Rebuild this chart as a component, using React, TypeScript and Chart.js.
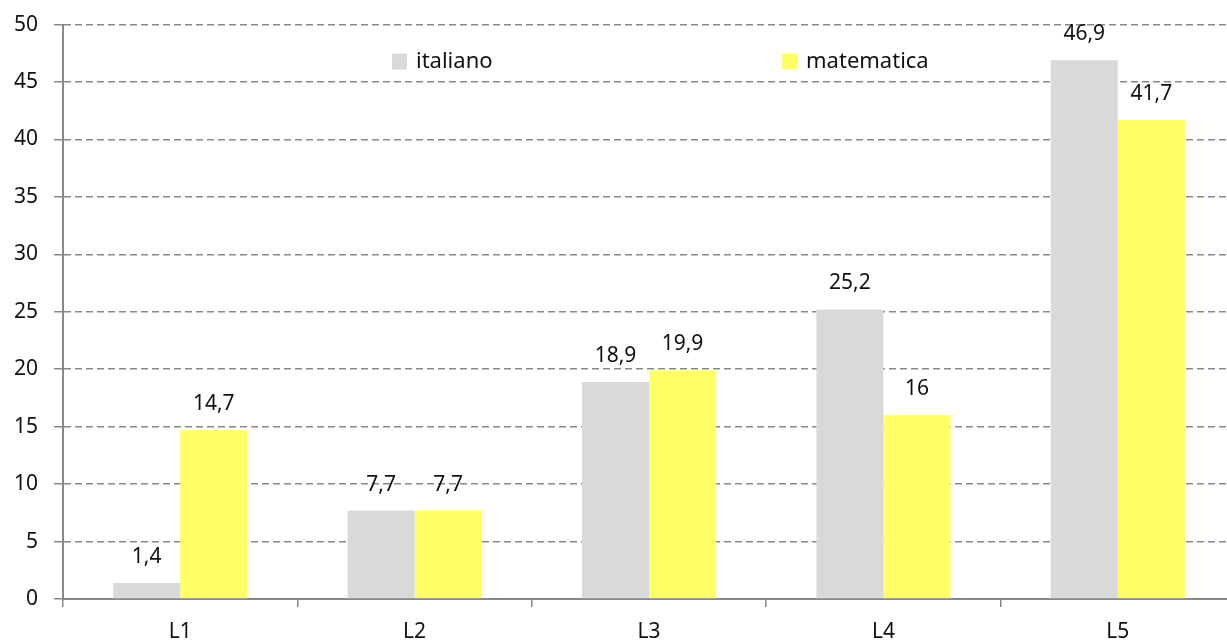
import React, { useEffect, useRef } from "react";
import { Chart, registerables } from "chart.js";

Chart.register(...registerables);

const categories = ["L1", "L2", "L3", "L4", "L5"];
const italiano = [1.4, 7.7, 18.9, 25.2, 46.9];
const matematica = [14.7, 7.7, 19.9, 16, 41.7];
const seriesNames = ["italiano", "matematica"];
const seriesColors = ["#d9d9d9", "#ffff66"];

const FONT = "'Noto Sans', 'DejaVu Sans', sans-serif";

const fmt = (v: number) => String(v).replace(".", ",");

const labelsPlugin = {
  id: "valueLabels",
  afterDatasetsDraw(chart: any) {
    const ctx = chart.ctx;
    ctx.save();
    ctx.font = `21px ${FONT}`;
    ctx.fillStyle = "#111";
    ctx.textAlign = "center";
    ctx.textBaseline = "middle";
    chart.data.datasets.forEach((ds: any, i: number) => {
      const meta = chart.getDatasetMeta(i);
      meta.data.forEach((bar: any, j: number) => {
        ctx.fillText(fmt(ds.data[j]), bar.x, bar.y - 26);
      });
    });
    ctx.restore();
  },
};

const legendPlugin = {
  id: "customLegend",
  afterDraw(chart: any) {
    const ctx = chart.ctx;
    const area = chart.chartArea;
    const w = area.right - area.left;
    const xs = [area.left + w * 0.2807, area.left + w * 0.6135];
    const y = area.top + 37;
    ctx.save();
    ctx.font = `22px ${FONT}`;
    ctx.textBaseline = "middle";
    ctx.textAlign = "left";
    seriesNames.forEach((name, i) => {
      ctx.fillStyle = seriesColors[i];
      ctx.fillRect(xs[i], y - 8, 15, 16);
      ctx.fillStyle = "#111";
      ctx.fillText(name, xs[i] + 24, y);
    });
    ctx.restore();
  },
};

export default function App() {
  const ref = useRef<HTMLCanvasElement>(null);
  useEffect(() => {
    if (!ref.current) return;
    const chart = new Chart(ref.current, {
      type: "bar",
      data: {
        labels: categories,
        datasets: [
          { label: seriesNames[0], data: italiano, backgroundColor: seriesColors[0] },
          { label: seriesNames[1], data: matematica, backgroundColor: seriesColors[1] },
        ],
      },
      options: {
        animation: false,
        responsive: false,
        maintainAspectRatio: false,
        layout: { padding: { top: 20, right: 10, left: 0, bottom: 0 } },
        datasets: { bar: { categoryPercentage: 0.572, barPercentage: 1 } },
        plugins: { legend: { display: false }, tooltip: { enabled: false } },
        scales: {
          x: {
            grid: {
              offset: true,
              drawOnChartArea: false,
              drawTicks: true,
              tickLength: 8,
              color: "#888",
              lineWidth: 1.5,
            },
            border: { color: "#888", width: 2 },
            ticks: { color: "#111", font: { family: FONT, size: 21 }, padding: 12 },
            afterFit: (s: any) => {
              s.height = 44;
            },
          },
          y: {
            min: 0,
            max: 50,
            ticks: { stepSize: 5, color: "#111", font: { family: FONT, size: 21 }, padding: 16 },
            grid: {
              color: "#888",
              lineWidth: 1.5,
              tickLength: 9,
              tickBorderDash: [],
            },
            border: { color: "#888", width: 2, dash: [7, 4] },
            afterFit: (s: any) => {
              s.width = 63;
            },
          },
        },
      },
      plugins: [labelsPlugin, legendPlugin],
    });
    return () => chart.destroy();
  }, []);
  return (
    <div
      style={{
        position: "fixed",
        left: 0,
        top: 0,
        width: 1227,
        height: 643,
        overflow: "hidden",
        background: "#fff",
      }}
    >
      <canvas
        ref={ref}
        width={1245}
        height={647}
        style={{ display: "block", position: "absolute", left: 0, top: -4 }}
      />
    </div>
  );
}
